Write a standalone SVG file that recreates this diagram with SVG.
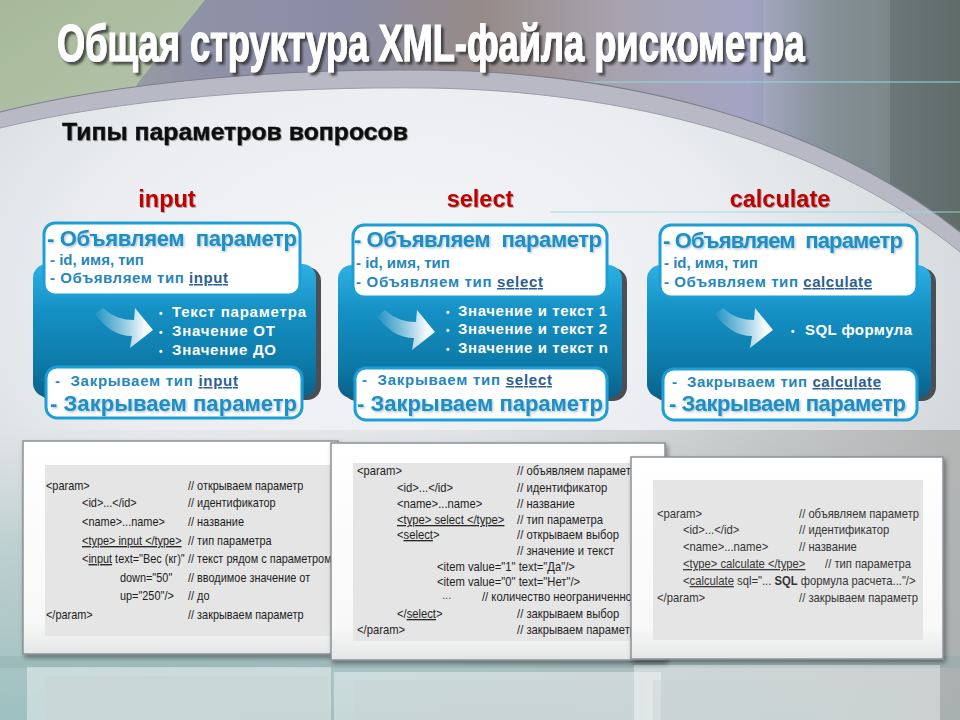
<svg xmlns="http://www.w3.org/2000/svg" width="960" height="720" viewBox="0 0 960 720">
<defs>
<style>
.f{font-family:"Liberation Sans",Arial,"DejaVu Sans",sans-serif}
.lbl{font-size:23.5px;font-weight:bold;fill:#c00000;text-anchor:middle;filter:url(#ssh)}
.h1{font-size:22px;font-weight:bold;fill:#1a90c6;filter:url(#bsh)}
.h2{font-size:15px;font-weight:bold;fill:#2587bb}
.u{fill:#2c5f90;text-decoration:underline}
.bul{font-size:15px;font-weight:bold;fill:#ffffff}
.dot{font-size:10px}
.wbox{fill:#ffffff;stroke:#1c9fd6;stroke-width:3}
.blue{fill:url(#blueGrad)}
.bsh{fill:#4a4f57}
.frame{fill:url(#frameGrad);stroke:#8b9196;stroke-width:1.5;filter:url(#psh)}
.inner{fill:#e5e5e5}
.code{font-size:13px;fill:#1c1c1c}
.code2{font-size:12.5px;fill:#1f1f1f}
.code3{font-size:12.5px;fill:#353535}
.ul{text-decoration:underline}
.refl{fill:#ffffff;opacity:0.4}
.refli{fill:#c9d3d3;opacity:0.45}
.arrow{fill:url(#arrowGrad)}
</style>
<linearGradient id="bgTop" x1="0" y1="0" x2="1" y2="0">
<stop offset="0" stop-color="#a1b394"/>
<stop offset="0.2" stop-color="#8f93a6"/>
<stop offset="0.35" stop-color="#8a8ca6"/>
<stop offset="0.5" stop-color="#968b88"/>
<stop offset="0.64" stop-color="#a7a2ae"/>
<stop offset="0.78" stop-color="#a3a5c4"/>
<stop offset="0.86" stop-color="#7c8890"/>
<stop offset="1" stop-color="#66726e"/>
</linearGradient>
<linearGradient id="greenGrad" x1="0" y1="0" x2="1" y2="1">
<stop offset="0" stop-color="#a7b99a"/>
<stop offset="1" stop-color="#b4c4aa"/>
</linearGradient>
<radialGradient id="lightGrad" cx="0.42" cy="0.32" r="0.75">
<stop offset="0" stop-color="#f6f6f8"/>
<stop offset="0.45" stop-color="#ebedf0"/>
<stop offset="1" stop-color="#c9cfd0"/>
</radialGradient>
<linearGradient id="groundGrad" x1="0" y1="0" x2="0" y2="1">
<stop offset="0" stop-color="#b9d0d0" stop-opacity="0"/>
<stop offset="0.4" stop-color="#a9c6c6" stop-opacity="0.55"/>
<stop offset="1" stop-color="#9cc0c0" stop-opacity="0.95"/>
</linearGradient>
<linearGradient id="groundRight" x1="0" y1="0" x2="1" y2="0">
<stop offset="0" stop-color="#b0b4b4" stop-opacity="0"/>
<stop offset="0.5" stop-color="#b4b8b8" stop-opacity="0.25"/>
<stop offset="1" stop-color="#acacac" stop-opacity="0.8"/>
</linearGradient>
<linearGradient id="blueGrad" x1="0" y1="0" x2="0" y2="1">
<stop offset="0" stop-color="#2eb0e2"/>
<stop offset="0.35" stop-color="#1590c4"/>
<stop offset="0.75" stop-color="#0d7aa8"/>
<stop offset="1" stop-color="#0a618a"/>
</linearGradient>
<linearGradient id="frameGrad" x1="0" y1="0" x2="0" y2="1">
<stop offset="0" stop-color="#ffffff"/>
<stop offset="0.85" stop-color="#f8f8f8"/>
<stop offset="1" stop-color="#e4e6e6"/>
</linearGradient>
<linearGradient id="arrowGrad" x1="0" y1="0" x2="1" y2="0">
<stop offset="0" stop-color="#ffffff" stop-opacity="0.05"/>
<stop offset="0.5" stop-color="#ffffff" stop-opacity="0.55"/>
<stop offset="0.85" stop-color="#ffffff" stop-opacity="0.95"/>
</linearGradient>
<filter id="tsh" x="-5%" y="-30%" width="110%" height="160%">
<feDropShadow dx="4" dy="3" stdDeviation="1.2" flood-color="#2a2a2a" flood-opacity="0.75"/>
</filter>
<filter id="ssh" x="-10%" y="-30%" width="120%" height="160%">
<feDropShadow dx="1" dy="1" stdDeviation="0.7" flood-color="#000000" flood-opacity="0.3"/>
</filter>
<filter id="bsh" x="-5%" y="-30%" width="110%" height="160%">
<feDropShadow dx="1.2" dy="1.2" stdDeviation="0.8" flood-color="#3e6a82" flood-opacity="0.45"/>
</filter>
<filter id="psh" x="-5%" y="-5%" width="112%" height="115%">
<feDropShadow dx="2" dy="3" stdDeviation="2.5" flood-color="#000000" flood-opacity="0.4"/>
</filter>
</defs>

<!-- background -->
<g id="background">
<rect x="0" y="0" width="960" height="720" fill="url(#bgTop)"/>
<path d="M0,0 L205,0 L140,80 L110,125 L0,125 Z" fill="url(#greenGrad)"/>
<rect x="763" y="0" width="127" height="300" fill="#ffffff" opacity="0.08"/>
<rect x="890" y="0" width="70" height="300" fill="#000000" opacity="0.05"/>
<line x1="560" y1="82" x2="960" y2="82" stroke="#8fd6de" stroke-width="1.5" opacity="0.7"/>
<path d="M0,112 C120,82 280,68 430,70 C620,72 820,120 960,232 L960,720 L0,720 Z" fill="#b8b9c4"/>
<path d="M0,112 C120,82 280,68 430,70 C620,72 820,120 960,232" fill="none" stroke="#7f808e" stroke-width="1.2"/>
<path d="M0,128 C120,99 280,86 430,88 C620,91 820,138 960,252 L960,720 L0,720 Z" fill="url(#lightGrad)"/>
<path d="M0,128 C120,99 280,86 430,88 C620,91 820,138 960,252" fill="none" stroke="#9a9cab" stroke-width="1"/>
<line x1="550" y1="212" x2="960" y2="212" stroke="#9adbe2" stroke-width="1.5" opacity="0.6"/>
<rect x="0" y="430" width="960" height="290" fill="url(#groundGrad)"/>
<rect x="0" y="430" width="960" height="290" fill="url(#groundRight)"/>
<rect x="0" y="656" width="960" height="12" fill="#86a6a6" opacity="0.3"/>
</g>

<g id="title" class="f">
<text transform="translate(57,61) scale(0.697,1)" x="0" y="0" font-size="52" font-weight="bold" fill="#ffffff" stroke="#ffffff" stroke-width="1.2" filter="url(#tsh)">Общая структура XML-файла рискометра</text>
</g>
<g id="subtitle" class="f">
<text x="62" y="140" font-size="24" font-weight="bold" fill="#111111" stroke="#111111" stroke-width="0.4" textLength="346" lengthAdjust="spacingAndGlyphs" filter="url(#ssh)">Типы параметров вопросов</text>
</g>

<!-- column: input -->
<g id="node-input" class="f">
<text class="lbl" x="167" y="207">input</text>
<rect class="bsh" x="38" y="267" width="283" height="133" rx="14"/>
<rect class="blue" x="33" y="264" width="283" height="133" rx="14"/>
<rect class="wbox" x="44" y="223" width="256" height="72" rx="11"/>
<text class="h1" x="47" y="246" textLength="250" xml:space="preserve">- Объявляем  параметр</text>
<text class="h2" x="50" y="265" font-size="14">- id, имя, тип</text>
<text class="h2" x="50" y="283" textLength="178">- Объявляем тип <tspan class="u">input</tspan></text>
<text class="bul" x="159" y="317"><tspan class="dot">•</tspan><tspan x="172" textLength="134">Текст параметра</tspan></text>
<text class="bul" x="159" y="336"><tspan class="dot">•</tspan><tspan x="172" textLength="103">Значение ОТ</tspan></text>
<text class="bul" x="159" y="355"><tspan class="dot">•</tspan><tspan x="172" textLength="104">Значение ДО</tspan></text>
<rect class="wbox" x="46" y="367" width="256" height="51" rx="11"/>
<text class="h2" x="55" y="386" textLength="183" xml:space="preserve">-  Закрываем тип <tspan class="u">input</tspan></text>
<text class="h1" x="50" y="411" textLength="247">- Закрываем параметр</text>
</g>

<!-- column: select -->
<g id="node-select" class="f">
<text class="lbl" x="480" y="207">select</text>
<rect class="bsh" x="343" y="268" width="284" height="133" rx="14"/>
<rect class="blue" x="338" y="265" width="284" height="133" rx="14"/>
<rect class="wbox" x="353" y="225" width="254" height="72" rx="11"/>
<text class="h1" x="354" y="247" textLength="248" xml:space="preserve">- Объявляем  параметр</text>
<text class="h2" x="356" y="268" font-size="14">- id, имя, тип</text>
<text class="h2" x="356" y="287" textLength="187">- Объявляем тип <tspan class="u">select</tspan></text>
<text class="bul" x="446" y="316"><tspan class="dot">•</tspan><tspan x="458" textLength="149">Значение и текст 1</tspan></text>
<text class="bul" x="446" y="334"><tspan class="dot">•</tspan><tspan x="458" textLength="149">Значение и текст 2</tspan></text>
<text class="bul" x="446" y="353"><tspan class="dot">•</tspan><tspan x="458" textLength="150">Значение и текст n</tspan></text>
<rect class="wbox" x="355" y="368" width="252" height="52" rx="11"/>
<text class="h2" x="362" y="385" textLength="190" xml:space="preserve">-  Закрываем тип <tspan class="u">select</tspan></text>
<text class="h1" x="357" y="411" textLength="246">- Закрываем параметр</text>
</g>

<!-- column: calculate -->
<g id="node-calculate" class="f">
<text class="lbl" x="780" y="207">calculate</text>
<rect class="bsh" x="652" y="268" width="284" height="133" rx="14"/>
<rect class="blue" x="647" y="265" width="284" height="133" rx="14"/>
<rect class="wbox" x="660" y="225" width="257" height="72" rx="11"/>
<text class="h1" x="663" y="248" textLength="240" xml:space="preserve">- Объявляем  параметр</text>
<text class="h2" x="664" y="268" font-size="14">- id, имя, тип</text>
<text class="h2" x="664" y="287" textLength="208">- Объявляем тип <tspan class="u">calculate</tspan></text>
<text class="bul" x="791" y="335"><tspan class="dot">•</tspan><tspan x="805" textLength="107">SQL формула</tspan></text>
<rect class="wbox" x="663" y="369" width="254" height="51" rx="11"/>
<text class="h2" x="672" y="387" textLength="209" xml:space="preserve">-  Закрываем тип <tspan class="u">calculate</tspan></text>
<text class="h1" x="669" y="411" textLength="237">- Закрываем параметр</text>
</g>

<!-- decorative flow arrows -->
<g id="connectors">
<path class="arrow" transform="translate(153,330)" d="M-58,-16 L-50,-22 C-40,-13 -30,-10 -19,-10 L-18,-22 L0,0 L-23,18 L-21,6 C-36,6 -48,-2 -58,-16 Z"/>
<path class="arrow" transform="translate(435,332)" d="M-58,-16 L-50,-22 C-40,-13 -30,-10 -19,-10 L-18,-22 L0,0 L-23,18 L-21,6 C-36,6 -48,-2 -58,-16 Z"/>
<path class="arrow" transform="translate(773,330)" d="M-58,-16 L-50,-22 C-40,-13 -30,-10 -19,-10 L-18,-22 L0,0 L-23,18 L-21,6 C-36,6 -48,-2 -58,-16 Z"/>
</g>

<!-- reflections -->
<g id="reflections">
<rect class="refl" x="27" y="667" width="304" height="53"/>
<rect class="refli" x="45" y="676" width="283" height="44"/>
<rect class="refl" x="334" y="672" width="327" height="48"/>
<rect class="refli" x="353" y="680" width="290" height="40"/>
<rect class="refl" x="634" y="665" width="306" height="55"/>
<rect class="refli" x="653" y="680" width="270" height="40"/>
</g>

<!-- code panel: input -->
<g id="code-input" class="f">
<rect class="frame" x="23" y="441" width="315" height="213"/>
<rect class="inner" x="45" y="465" width="293" height="171"/>
<g class="code" transform="translate(46,0) scale(0.84,1)">
<text x="0" y="490">&lt;param&gt;</text>
<text x="42.9" y="507">&lt;id&gt;...&lt;/id&gt;</text>
<text x="42.9" y="526">&lt;name&gt;...name&gt;</text>
<text x="42.9" y="545"><tspan class="ul">&lt;type&gt; input &lt;/type&gt;</tspan></text>
<text x="42.9" y="563">&lt;<tspan class="ul">input</tspan> text="Вес (кг)"</text>
<text x="88" y="582">down="50"</text>
<text x="88" y="600">up="250"/&gt;</text>
<text x="0" y="619">&lt;/param&gt;</text>
<text x="169" y="490">// открываем  параметр</text>
<text x="169" y="507">// идентификатор</text>
<text x="169" y="526">// название</text>
<text x="169" y="545">// тип параметра</text>
<text x="169" y="563">// текст рядом с параметром</text>
<text x="169" y="582">// вводимое  значение  от</text>
<text x="169" y="600">// до</text>
<text x="169" y="619">// закрываем  параметр</text>
</g>
</g>

<!-- code panel: select -->
<g id="code-select" class="f">
<rect class="frame" x="331" y="443" width="334" height="217"/>
<rect class="inner" x="353" y="463" width="295" height="178"/>
<g class="code2" transform="translate(357,0) scale(0.9,1)">
<text x="0" y="475">&lt;param&gt;</text>
<text x="44.4" y="492">&lt;id&gt;...&lt;/id&gt;</text>
<text x="44.4" y="508">&lt;name&gt;...name&gt;</text>
<text x="44.4" y="524"><tspan class="ul">&lt;type&gt; select &lt;/type&gt;</tspan></text>
<text x="44.4" y="539">&lt;<tspan class="ul">select</tspan>&gt;</text>
<text x="88.9" y="571">&lt;item value="1" text="Да"/&gt;</text>
<text x="88.9" y="586">&lt;item value="0" text="Нет"/&gt;</text>
<text x="94.4" y="599" fill="#555555">...</text>
<text x="44.4" y="618">&lt;/<tspan class="ul">select</tspan>&gt;</text>
<text x="0" y="634">&lt;/param&gt;</text>
<text x="177.8" y="475">// объявляем параметр</text>
<text x="177.8" y="492">// идентификатор</text>
<text x="177.8" y="508">// название</text>
<text x="177.8" y="524">// тип параметра</text>
<text x="177.8" y="539">// открываем  выбор</text>
<text x="177.8" y="555">// значение и текст</text>
<text x="138.9" y="601">// количество  неограниченно</text>
<text x="177.8" y="618">// закрываем  выбор</text>
<text x="177.8" y="634">// закрываем  параметр</text>
</g>
</g>

<!-- code panel: calculate -->
<g id="code-calculate" class="f">
<rect class="frame" x="631" y="457" width="312" height="202"/>
<rect class="inner" x="653" y="480" width="270" height="160"/>
<g class="code3" transform="translate(657,0) scale(0.9,1)">
<text x="0" y="518">&lt;param&gt;</text>
<text x="28.9" y="534">&lt;id&gt;...&lt;/id&gt;</text>
<text x="28.9" y="551">&lt;name&gt;...name&gt;</text>
<text x="28.9" y="568"><tspan class="ul">&lt;type&gt; calculate &lt;/type&gt;</tspan></text>
<text x="28.9" y="585">&lt;<tspan class="ul">calculate</tspan> sql="... <tspan font-weight="bold">SQL</tspan> формула  расчета..."/&gt;</text>
<text x="0" y="602">&lt;/param&gt;</text>
<text x="157.8" y="518">// объявляем параметр</text>
<text x="157.8" y="534">// идентификатор</text>
<text x="157.8" y="551">// название</text>
<text x="186.7" y="568">// тип параметра</text>
<text x="157.8" y="602">// закрываем параметр</text>
</g>
</g>
</svg>
